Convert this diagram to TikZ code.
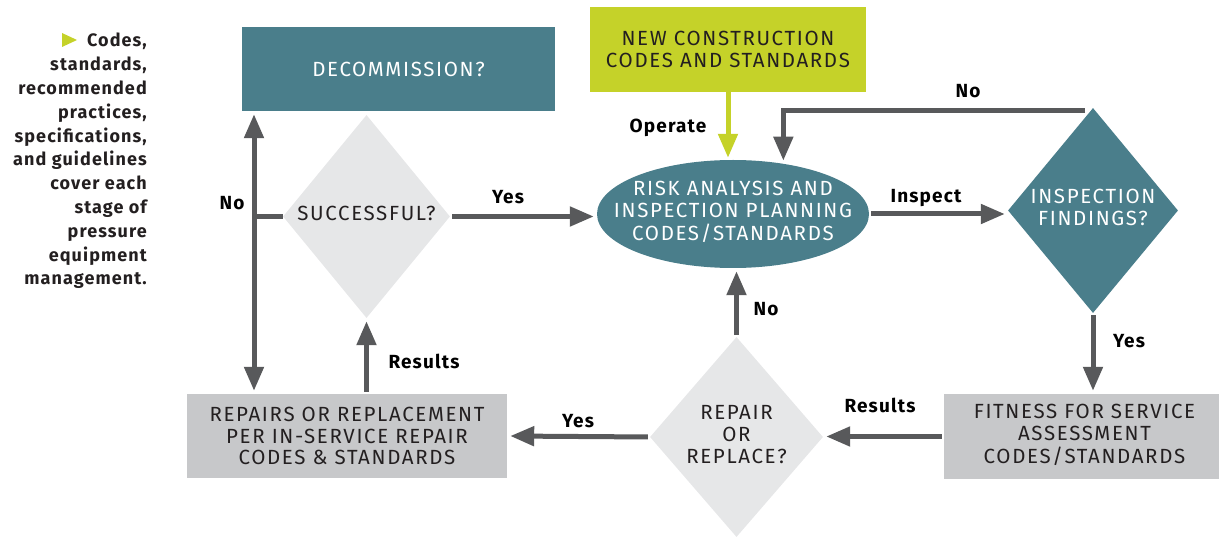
\documentclass[tikz,border=0pt]{standalone}
\usepackage{fontspec}
\setmainfont{Fira Sans}
\newfontfamily\boxf{Fira Sans}[LetterSpace=8]
\newfontfamily\lblf{Fira Sans}[LetterSpace=6]
\usetikzlibrary{arrows.meta,shapes.geometric,calc}
\definecolor{tealc}{HTML}{4A7E8B}
\definecolor{limec}{HTML}{C5D229}
\definecolor{boxgray}{HTML}{C7C8CA}
\definecolor{diamgray}{HTML}{E6E7E8}
\definecolor{agray}{HTML}{58595B}
\definecolor{txtdark}{HTML}{231F20}
\newcommand{\zw}[1]{\makebox[0pt]{\begin{tabular}{@{}c@{}}#1\end{tabular}}}
\begin{document}
\begin{tikzpicture}[x=1pt,y=-1pt,
  boxtxt/.style={font=\boxf\fontsize{20.5}{21.8}\selectfont},
  rectbox/.style={rectangle, inner sep=0pt, align=center, boxtxt},
  diam/.style={diamond, inner sep=0pt, boxtxt},
  arr/.style={draw=agray, line width=5pt, -{Triangle[length=24pt,width=19pt]}, shorten >=3pt, shorten <=2pt},
  plainline/.style={draw=agray, line width=5pt},
  lbl/.style={font=\lblf\bfseries\fontsize{19}{20}\selectfont, text=black, inner sep=0pt}
]
\useasboundingbox (0,0) rectangle (1219,537);

% side note
\fill[limec] (62,33) -- (77,40) -- (62,47) -- cycle;
\node[anchor=north east, align=right, inner sep=0pt, text=txtdark,
  font=\lblf\bfseries\fontsize{18}{23.8}\selectfont] (note) at (147,33)
  {Codes,\\standards,\\recommended\\practices,\\specifications,\\and guidelines\\cover each\\stage of\\pressure\\equipment\\management.};

% nodes
\node[rectbox, fill=tealc, text=white, minimum width=313pt, minimum height=84pt] (dec) at (398.5,69) {DECOMMISSION?};
\node[rectbox, fill=limec, text=txtdark, minimum width=276pt, minimum height=85pt] (nc) at (728,49.5) {NEW CONSTRUCTION\\CODES AND STANDARDS};
\node[ellipse, fill=tealc, text=white, inner sep=0pt, minimum width=272pt, minimum height=108pt, boxtxt] (ell) at (733,214)
  {\raisebox{-2pt}{\zw{RISK ANALYSIS AND\\INSPECTION PLANNING\\CODES/STANDARDS}}};
\node[diam, fill=tealc, text=white, minimum width=170pt, minimum height=205pt] (insp) at (1093,210.5)
  {\zw{INSPECTION\\FINDINGS?}};
\node[rectbox, fill=boxgray, text=txtdark, minimum width=275pt, minimum height=85pt] (ffs) at (1081.5,436.5) {\hspace*{6pt}\begin{tabular}{@{}c@{}}FITNESS FOR SERVICE\\ASSESSMENT\\CODES/STANDARDS\end{tabular}};
\node[diam, fill=diamgray, text=txtdark, minimum width=173pt, minimum height=200pt] (rr) at (736.5,437)
  {\zw{REPAIR\\OR\\REPLACE?}};
\node[rectbox, fill=boxgray, text=txtdark, minimum width=320pt, minimum height=84pt] (rep) at (347,436) {REPAIRS OR REPLACEMENT\\PER IN-SERVICE REPAIR\\CODES \& STANDARDS};
\node[diam, fill=diamgray, text=txtdark, minimum width=167pt, minimum height=203pt] (succ) at (366.5,216.5)
  {\zw{SUCCESSFUL?}};

% connectors
\draw[draw=limec, line width=5pt, -{Triangle[length=24pt,width=19pt]}, shorten >=2pt]
  (nc.south) -- (nc.south |- ell.north);
\coordinate (topstart) at ($(insp.north)+(-6,3)$);
\draw[arr] (topstart) -| (ell.45);
\draw[arr] (ell.east) -- (ell.east -| insp.west);
\draw[arr] (insp.south) -- (insp.south |- ffs.north);
\draw[arr] (ffs.west) -- (ffs.west -| rr.east);
\draw[arr] (rr.north) -- (rr.north |- ell.south);
\draw[arr] (rr.west) -- (rep.east);
\draw[arr] (rep.north -| succ.south) -- (succ.south);
\draw[arr] (succ.east) -- (succ.east -| ell.west);
\coordinate (lj) at (254,216.5);
\draw[plainline] (succ.west) -- (lj);
\draw[arr, shorten <=-2.5pt] (lj) -- (lj |- dec.south);
\draw[arr, shorten <=-2.5pt] (lj) -- (lj |- rep.north);

% labels
\node[lbl] (l1) at (668,128) {Operate};
\node[lbl] (l2) at (968,91) {No};
\node[lbl] (l3) at (926,198) {Inspect};
\node[lbl] (l4) at (1129,341) {Yes};
\node[lbl] (l5) at (880,405) {Results};
\node[lbl] (l6) at (766,309) {No};
\node[lbl] (l7) at (578,421) {Yes};
\node[lbl] (l8) at (424,361) {Results};
\node[lbl] (l9) at (508,197) {Yes};
\node[lbl] (l10) at (232,203) {No};
\end{tikzpicture}
\end{document}
